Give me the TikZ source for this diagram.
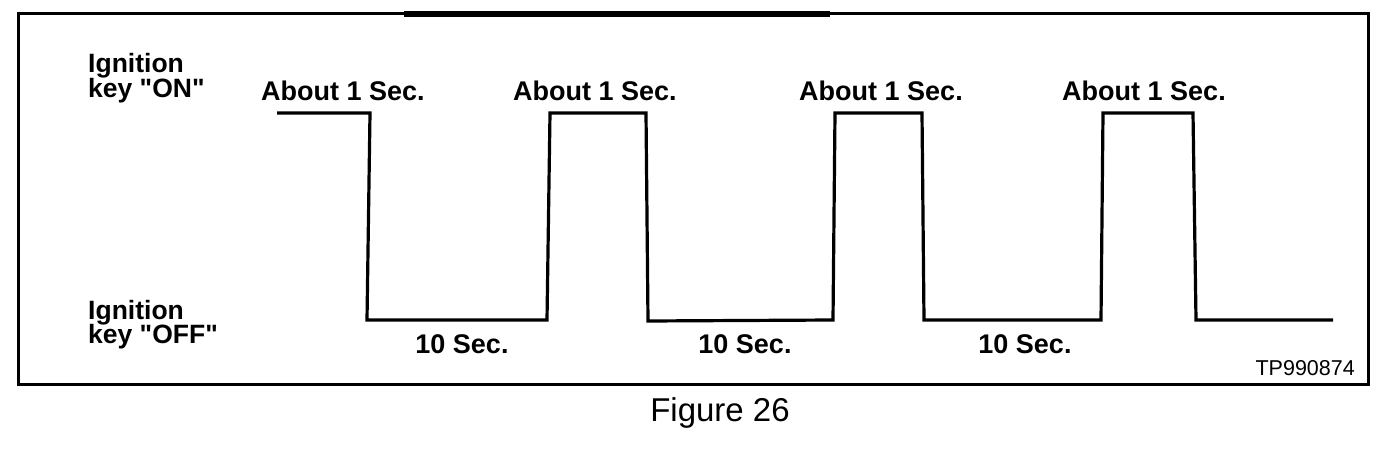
\documentclass[tikz,border=0pt]{standalone}
\usepackage{fontspec}
\setmainfont{Liberation Sans}
\newfontfamily\qfont{Liberation Sans}
\begin{document}
\begin{tikzpicture}[x=1pt,y=-1pt,
  lbl/.style={font=\fontsize{27}{30}\selectfont\bfseries, inner sep=0pt, anchor=base},
  side/.style={font=\qfont\fontsize{26.5}{21}\selectfont\bfseries, inner sep=0pt, anchor=base west},
  wave/.style={line width=3.2pt, line join=miter},
  frame/.style={line width=3pt}]
\useasboundingbox (0,0) rectangle (1392,452);
\draw[frame] (18,14) rectangle (1368,384);
\draw[line width=6pt] (404,14) -- (830,14);
% waveform
\draw[wave] (277,113) -- (370,113) -- (367,320) -- (547,320) -- (550,113)
  -- (646,113) -- (648,321) -- (833,320) -- (835,113) -- (922,113)
  -- (924,320) -- (1101,320) -- (1103,113) -- (1193,113) -- (1196,320) -- (1333,320);
% side labels
\node[side] (on1) at (88,73) {Ignition};
\node[side] (on2) at (88,97) {key "ON"};
\node[side] (off1) at (88,319) {Ignition};
\node[side] (off2) at (88,343) {key "OFF"};
% pulse labels
\node[lbl] (a1) at (343,100) {About 1 Sec.};
\node[lbl] (a2) at (595,100) {About 1 Sec.};
\node[lbl] (a3) at (881,100) {About 1 Sec.};
\node[lbl] (a4) at (1144,100) {About 1 Sec.};
\node[lbl] (t1) at (462,353) {10 Sec.};
\node[lbl] (t2) at (745,353) {10 Sec.};
\node[lbl] (t3) at (1025,353) {10 Sec.};
\node[font=\fontsize{21.5}{23}\selectfont, inner sep=0pt, anchor=base east] (tp) at (1355,375) {TP990874};
\node[font=\fontsize{33}{36}\selectfont, inner sep=0pt, anchor=base] (fig) at (720,421) {Figure 26};
\end{tikzpicture}
\end{document}
